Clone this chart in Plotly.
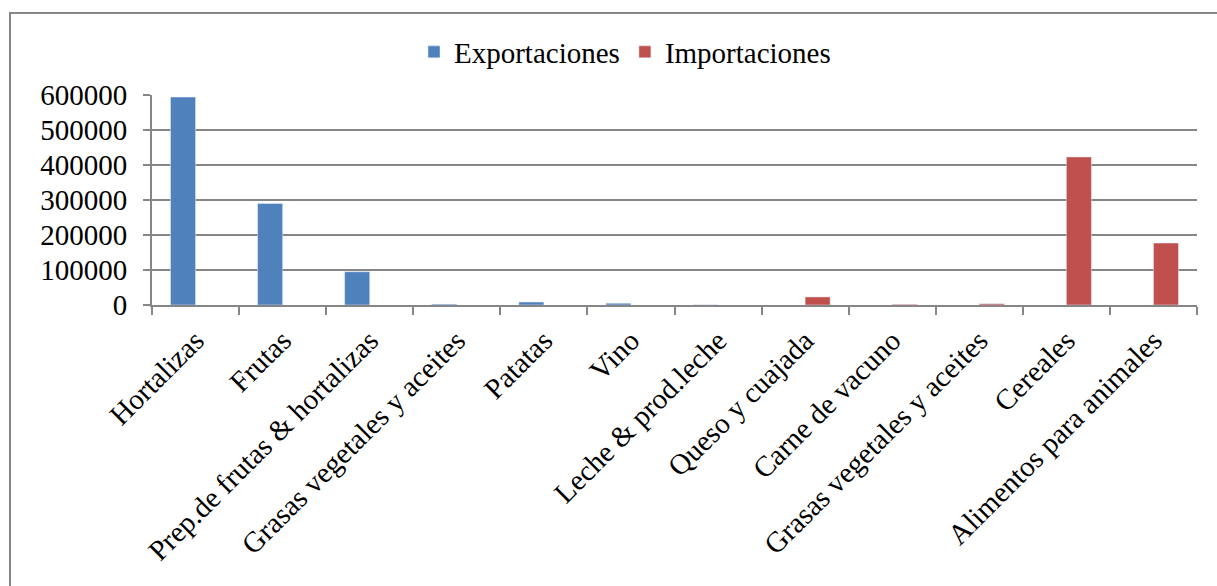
import plotly.graph_objects as go

categories = ["Hortalizas", "Frutas", "Prep.de frutas & hortalizas", "Grasas vegetales y aceites",
              "Patatas", "Vino", "Leche & prod.leche", "Queso y cuajada", "Carne de vacuno",
              "Grasas vegetales y aceites", "Cereales", "Alimentos para animales"]
exportaciones = [594000, 290000, 95000, 2500, 8500, 5000, 500, None, None, None, None, None]
importaciones = [None, None, None, None, None, None, None, 23000, 2000, 3500, 423000, 177000]
y_ticks = [0, 100000, 200000, 300000, 400000, 500000, 600000]

keys = [f"c{i}" for i in range(len(categories))]
font = "Liberation Serif, Times New Roman, serif"

fig = go.Figure()
fig.add_trace(go.Bar(name="Exportaciones", x=keys, y=exportaciones, marker_color="#4F81BD"))
fig.add_trace(go.Bar(name="Importaciones", x=keys, y=importaciones, marker_color="#C0504D"))

W, H = 1217, 586
L, R, T, B = 152, 20, 95, 281
pw, ph = W - L - R, H - T - B

def px(x):
    return (x - L) / pw

def py(y):
    return (H - B - y) / ph

fig.update_layout(
    width=W, height=H,
    margin=dict(l=L, r=R, t=T, b=B),
    paper_bgcolor="white", plot_bgcolor="white",
    barmode="group", bargap=0.425, bargroupgap=0,
    font=dict(family=font, size=29, color="black"),
    showlegend=True,
    legend=dict(orientation="h", x=px(625), xanchor="center", y=py(52), yanchor="middle",
                font=dict(family=font, size=29), itemwidth=30, bgcolor="rgba(0,0,0,0)"),
    xaxis=dict(type="category", tickmode="array", tickvals=keys, ticktext=categories,
               tickangle=-45, tickfont=dict(family=font, size=29), ticklabelstandoff=5,
               showline=True, linecolor="#868686", linewidth=2,
               ticks="outside", ticklen=8, tickcolor="#868686", tickwidth=2,
               tickson="boundaries", showgrid=False, range=[-0.5, 11.5]),
    yaxis=dict(range=[0, 600000], tickvals=y_ticks, ticktext=[str(v) for v in y_ticks],
               tickfont=dict(family=font, size=29), ticklabelstandoff=10,
               showgrid=True, gridcolor="#868686", gridwidth=2,
               showline=True, linecolor="#868686", linewidth=2,
               ticks="outside", ticklen=7, tickcolor="#868686", tickwidth=2,
               zeroline=False),
    shapes=[dict(type="rect", xref="paper", yref="paper",
                 x0=px(10), x1=px(1300), y0=py(700), y1=py(13),
                 line=dict(color="#868686", width=2), fillcolor="rgba(0,0,0,0)", layer="below")],
)

fig.write_html("out.html")
